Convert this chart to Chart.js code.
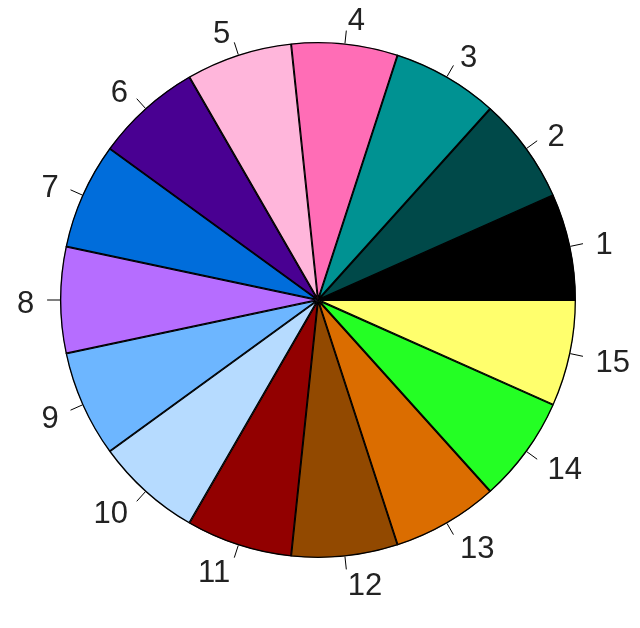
<!DOCTYPE html>
<html lang="en">
<head>
<meta charset="UTF-8">
<title>Pie</title>
<script src="https://cdn.jsdelivr.net/npm/chart.js"></script>
<style>
  html, body { margin: 0; padding: 0; background: #fff; }
  #wrap { width: 640px; height: 628px; }
</style>
</head>
<body>
<div id="wrap"><canvas id="pie"></canvas></div>
<script>
// slices in R order (counter-clockwise from 3 o'clock)
const sliceLabels = ['1','2','3','4','5','6','7','8','9','10','11','12','13','14','15'];
const sliceValues = [1,1,1,1,1,1,1,1,1,1,1,1,1,1,1];
const sliceColors = ['#000000','#004949','#009292','#ff6db6','#ffb6db','#490092','#006ddb',
                     '#b66dff','#6db6ff','#b6dbff','#920000','#924900','#db6d00','#24ff24','#ffff6d'];

// Chart.js goes clockwise, so feed it reversed
const labels = sliceLabels.slice().reverse();
const values = sliceValues.slice().reverse();
const colors = sliceColors.slice().reverse();

// tick marks + labels outside each slice, like R's pie()
const outerLabels = {
  id: 'outerLabels',
  afterDatasetsDraw(chart) {
    const ctx = chart.ctx;
    const meta = chart.getDatasetMeta(0);
    ctx.save();
    ctx.strokeStyle = '#000';
    ctx.lineWidth = 1;
    ctx.fillStyle = '#222';
    ctx.font = '31px "Liberation Sans", Arial, sans-serif';
    ctx.textBaseline = 'middle';
    meta.data.forEach((arc, i) => {
      const p = arc.getProps(['x', 'y', 'startAngle', 'endAngle', 'outerRadius'], true);
      const a = (p.startAngle + p.endAngle) / 2;
      const c = Math.cos(a), s = Math.sin(a);
      const r = p.outerRadius;
      ctx.beginPath();
      ctx.moveTo(p.x + c * r, p.y + s * r);
      ctx.lineTo(p.x + c * r * 1.05, p.y + s * r * 1.05);
      ctx.stroke();
      ctx.textAlign = c > 0.01 ? 'left' : (c < -0.01 ? 'right' : 'center');
      ctx.fillText(labels[i], p.x + c * r * 1.1, p.y + s * r * 1.1 + 4);
    });
    ctx.restore();
  }
};

new Chart(document.getElementById('pie'), {
  type: 'pie',
  data: {
    labels: labels,
    datasets: [{
      data: values,
      backgroundColor: colors,
      borderColor: '#000',
      borderWidth: 1,
      borderAlign: 'inner'
    }]
  },
  options: {
    responsive: true,
    maintainAspectRatio: false,
    animation: false,
    rotation: 90,
    layout: { padding: { left: 60, right: 64, top: 42, bottom: 70 } },
    plugins: {
      legend: { display: false },
      tooltip: { enabled: false }
    }
  },
  plugins: [outerLabels]
});
</script>
</body>
</html>
